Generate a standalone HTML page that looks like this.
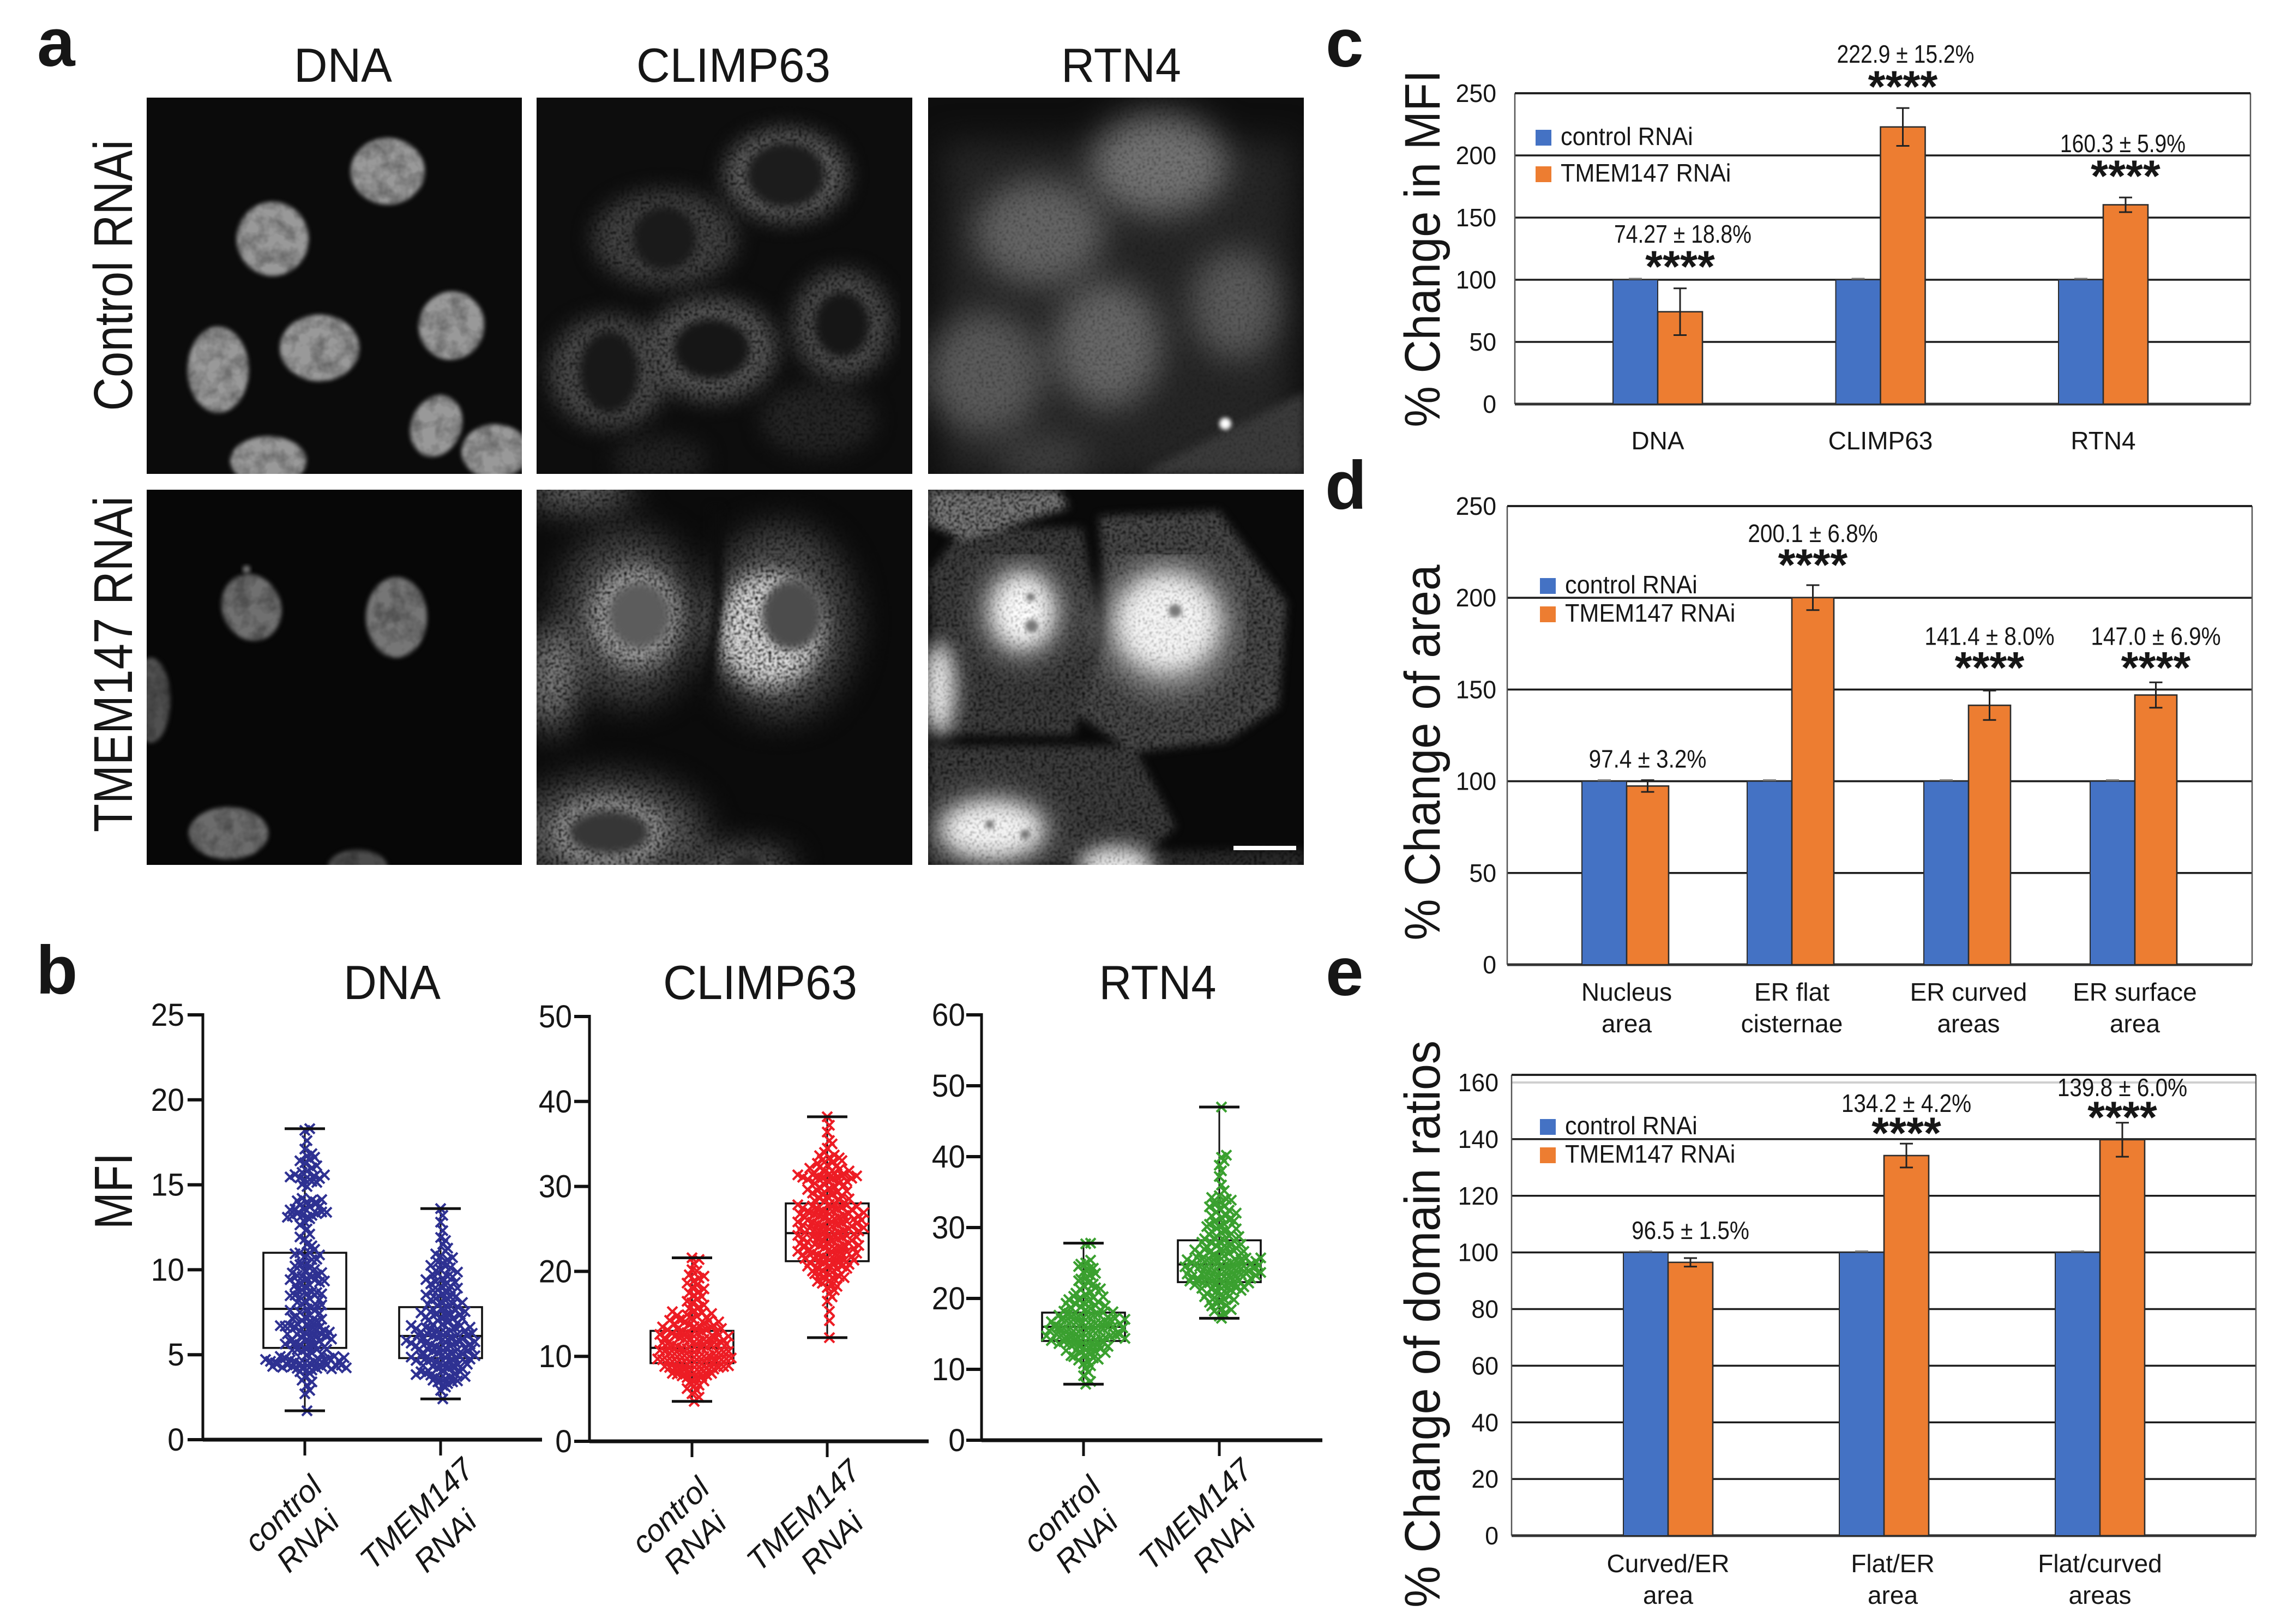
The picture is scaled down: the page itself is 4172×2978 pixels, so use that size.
<!DOCTYPE html>
<html lang="en">
<head>
<meta charset="utf-8">
<title>TMEM147 RNAi figure</title>
<style>
html,body{margin:0;padding:0;background:#fff}
svg{display:block}
text{font-family:"Liberation Sans",sans-serif;fill:#161616}
</style>
</head>
<body>
<svg id="fig" xmlns="http://www.w3.org/2000/svg" width="4172" height="2978" viewBox="0 0 4172 2978">
<defs>
<clipPath id="c11"><rect x="269" y="179" width="688" height="690"/></clipPath>
<clipPath id="c12"><rect x="984" y="179" width="689" height="690"/></clipPath>
<clipPath id="c13"><rect x="1702" y="179" width="689" height="690"/></clipPath>
<clipPath id="c21"><rect x="269" y="898" width="688" height="688"/></clipPath>
<clipPath id="c22"><rect x="984" y="898" width="689" height="688"/></clipPath>
<clipPath id="c23"><rect x="1702" y="898" width="689" height="688"/></clipPath>
<filter id="b4" x="-30%" y="-30%" width="160%" height="160%" color-interpolation-filters="sRGB"><feGaussianBlur stdDeviation="4"/></filter>
<filter id="b8" x="-20%" y="-20%" width="140%" height="140%" color-interpolation-filters="sRGB"><feGaussianBlur stdDeviation="8"/></filter>
<filter id="b18" x="-30%" y="-30%" width="160%" height="160%" color-interpolation-filters="sRGB"><feGaussianBlur stdDeviation="18"/></filter>
<filter id="b30" x="-40%" y="-40%" width="180%" height="180%" color-interpolation-filters="sRGB"><feGaussianBlur stdDeviation="30"/></filter>
<filter id="netStrong" x="-30%" y="-30%" width="160%" height="160%" color-interpolation-filters="sRGB">
<feTurbulence type="fractalNoise" baseFrequency="0.2" numOctaves="2" seed="4" result="n"/>
<feColorMatrix in="n" type="matrix" values="0 0 0 0 0  0 0 0 0 0  0 0 0 0 0  2.6 0 0 0 -0.5" result="m"/>
<feComposite in="SourceGraphic" in2="m" operator="in"/>
<feGaussianBlur stdDeviation="1.2"/>
</filter>
<filter id="netMild" x="-30%" y="-30%" width="160%" height="160%" color-interpolation-filters="sRGB">
<feTurbulence type="fractalNoise" baseFrequency="0.24" numOctaves="2" seed="9" result="n"/>
<feColorMatrix in="n" type="matrix" values="0 0 0 0 0  0 0 0 0 0  0 0 0 0 0  1.4 0 0 0 0.27" result="m"/>
<feComposite in="SourceGraphic" in2="m" operator="in"/>
<feGaussianBlur stdDeviation="1.2"/>
</filter>
<filter id="mottle" x="-20%" y="-20%" width="140%" height="140%" color-interpolation-filters="sRGB">
<feTurbulence type="fractalNoise" baseFrequency="0.035" numOctaves="3" seed="12" result="n"/>
<feColorMatrix in="n" type="matrix" values="0 0 0 0 0  0 0 0 0 0  0 0 0 0 0  0.7 0 0 0 0.55" result="m"/>
<feComposite in="SourceGraphic" in2="m" operator="in"/>
</filter>
</defs>

<rect width="4172" height="2978" fill="#fff"/>

<!-- Panel letters -->
<text x="68" y="121" font-size="125" font-weight="bold" fill="#000">a</text>
<text x="66" y="1822" font-size="125" font-weight="bold" fill="#000">b</text>
<text x="2431" y="122" font-size="125" font-weight="bold" fill="#000">c</text>
<text x="2430" y="933" font-size="125" font-weight="bold" fill="#000">d</text>
<text x="2431" y="1825" font-size="125" font-weight="bold" fill="#000">e</text>

<!-- Panel a headers -->
<text x="629" y="150" font-size="88" text-anchor="middle" textLength="180" lengthAdjust="spacingAndGlyphs">DNA</text>
<text x="1345" y="150" font-size="88" text-anchor="middle" textLength="356" lengthAdjust="spacingAndGlyphs">CLIMP63</text>
<text x="2056" y="150" font-size="88" text-anchor="middle" textLength="220" lengthAdjust="spacingAndGlyphs">RTN4</text>
<text transform="translate(242 505) rotate(-90)" font-size="100" text-anchor="middle" textLength="497" lengthAdjust="spacingAndGlyphs">Control RNAi</text>
<text transform="translate(242 1218) rotate(-90)" font-size="100" text-anchor="middle" textLength="616" lengthAdjust="spacingAndGlyphs">TMEM147 RNAi</text>

<!-- Micrograph: DNA control -->
<g clip-path="url(#c11)">
<rect x="269" y="179" width="688" height="690" fill="#0b0b0b"/>
<g filter="url(#mottle)"><g filter="url(#b4)" fill="#999">
<ellipse cx="711" cy="314" rx="68" ry="61"/>
<ellipse cx="500" cy="438" rx="66" ry="68"/>
<ellipse cx="828" cy="597" rx="60" ry="63" transform="rotate(15 828 597)"/>
<ellipse cx="586" cy="638" rx="73" ry="61"/>
<ellipse cx="400" cy="678" rx="56" ry="79"/>
<ellipse cx="800" cy="781" rx="46" ry="58" transform="rotate(22 800 781)"/>
<ellipse cx="492" cy="845" rx="70" ry="45"/>
<ellipse cx="908" cy="828" rx="62" ry="50"/>
</g></g>
</g>

<!-- Micrograph: CLIMP63 control -->
<g clip-path="url(#c12)">
<rect x="984" y="179" width="689" height="690" fill="#0d0d0d"/>
<g filter="url(#netStrong)"><g filter="url(#b18)">
<ellipse cx="1441" cy="321" rx="112" ry="84" fill="#666"/>
<ellipse cx="1219" cy="437" rx="132" ry="88" fill="#444"/>
<ellipse cx="1305" cy="640" rx="120" ry="94" fill="#5a5a5a"/>
<ellipse cx="1544" cy="595" rx="90" ry="100" fill="#505050"/>
<ellipse cx="1117" cy="682" rx="110" ry="104" fill="#4c4c4c"/>
<ellipse cx="1500" cy="770" rx="105" ry="65" fill="#262626"/>
<ellipse cx="1210" cy="845" rx="85" ry="45" fill="#242424"/>
</g></g>
<g filter="url(#b8)">
<ellipse cx="1441" cy="321" rx="72" ry="60" fill="#1c1c1c"/>
<ellipse cx="1219" cy="437" rx="58" ry="58" fill="#1a1a1a"/>
<ellipse cx="1305" cy="640" rx="70" ry="55" fill="#161616"/>
<ellipse cx="1544" cy="595" rx="50" ry="59" fill="#161616"/>
<ellipse cx="1117" cy="682" rx="54" ry="75" fill="#181818"/>
</g>
</g>

<!-- Micrograph: RTN4 control -->
<g clip-path="url(#c13)">
<rect x="1702" y="179" width="689" height="690" fill="#0e0e0e"/>
<g filter="url(#netMild)">
<g filter="url(#b30)">
<rect x="1730" y="260" width="640" height="620" fill="#262626"/>
<ellipse cx="2125" cy="300" rx="125" ry="92" fill="#747474"/>
<ellipse cx="1906" cy="426" rx="118" ry="96" fill="#666"/>
<ellipse cx="2031" cy="632" rx="98" ry="115" fill="#686868"/>
<ellipse cx="2266" cy="558" rx="82" ry="100" fill="#5c5c5c"/>
<ellipse cx="1805" cy="684" rx="108" ry="110" fill="#5c5c5c"/>
<ellipse cx="1914" cy="845" rx="85" ry="50" fill="#404040"/>
</g>
<polygon points="2090,869 2391,720 2391,869" fill="#3c3c3c" filter="url(#b8)"/>
</g>
<circle cx="2247" cy="777" r="11" fill="#fff" filter="url(#b4)"/>
</g>

<!-- Micrograph: DNA TMEM147 -->
<g clip-path="url(#c21)">
<rect x="269" y="898" width="688" height="688" fill="#070707"/>
<g filter="url(#mottle)"><g filter="url(#b4)">
<ellipse cx="461" cy="1114" rx="54" ry="62" fill="#707070" transform="rotate(-22 461 1114)"/>
<ellipse cx="727" cy="1132" rx="56" ry="74" fill="#767676"/>
<ellipse cx="277" cy="1284" rx="35" ry="78" fill="#505050"/>
<ellipse cx="419" cy="1528" rx="73" ry="48" fill="#6c6c6c"/>
<ellipse cx="656" cy="1590" rx="55" ry="32" fill="#4c4c4c"/>
</g></g>
<circle cx="452" cy="1044" r="7" fill="#777" filter="url(#b4)"/>
</g>

<!-- Micrograph: CLIMP63 TMEM147 -->
<g clip-path="url(#c22)">
<rect x="984" y="898" width="689" height="688" fill="#0b0b0b"/>
<g filter="url(#netStrong)">
<g filter="url(#b30)">
<ellipse cx="1150" cy="1130" rx="130" ry="160" fill="#4c4c4c"/>
<ellipse cx="1430" cy="1140" rx="135" ry="175" fill="#505050"/>
<ellipse cx="1117" cy="1526" rx="175" ry="100" fill="#5c5c5c"/>
<ellipse cx="1060" cy="900" rx="100" ry="30" fill="#808080"/>
<ellipse cx="1010" cy="1245" rx="40" ry="95" fill="#909090"/>
<ellipse cx="1360" cy="1590" rx="90" ry="30" fill="#808080"/>
</g>
<g filter="url(#b18)">
<ellipse cx="1165" cy="1130" rx="82" ry="92" fill="#a8a8a8"/>
<ellipse cx="1410" cy="1155" rx="96" ry="105" fill="#e0e0e0"/>
<ellipse cx="1117" cy="1526" rx="100" ry="60" fill="#a4a4a4"/>
</g>
</g>
<g filter="url(#b8)">
<ellipse cx="1172" cy="1128" rx="56" ry="60" fill="#5c5c5c"/>
<ellipse cx="1452" cy="1128" rx="55" ry="64" fill="#4c4c4c"/>
<ellipse cx="1117" cy="1526" rx="74" ry="40" fill="#363636"/>
<ellipse cx="1368" cy="1585" rx="32" ry="16" fill="#262626"/>
<path d="M1312 930 L1316 1100 L1296 1270" stroke="#0c0c0c" stroke-width="20" fill="none"/>
</g>
</g>

<!-- Micrograph: RTN4 TMEM147 -->
<g clip-path="url(#c23)">
<rect x="1702" y="898" width="689" height="688" fill="#090909"/>
<g filter="url(#netStrong)">
<g filter="url(#b8)">
<polygon points="2016,947 2234,937 2359,1105 2344,1295 2250,1358 2078,1379 1969,1305 2031,1158" fill="#4c4c4c"/>
<polygon points="1766,968 1984,968 2016,1158 1969,1347 1719,1347 1703,1053" fill="#404040"/>
<polygon points="1703,1368 2078,1368 2156,1516 2078,1586 1703,1586" fill="#404040"/>
<polygon points="1702,898 1940,898 1960,930 1770,990 1702,960" fill="#7c7c7c"/>
<rect x="2040" y="1560" width="351" height="40" fill="#2c2c2c"/>
</g>
</g>
<g filter="url(#netMild)">
<g filter="url(#b30)">
<ellipse cx="2141" cy="1147" rx="120" ry="120" fill="#a0a0a0"/>
<ellipse cx="1875" cy="1121" rx="75" ry="88" fill="#a0a0a0"/>
<ellipse cx="1820" cy="1521" rx="105" ry="60" fill="#a0a0a0"/>
</g>
<g filter="url(#b18)">
<ellipse cx="2141" cy="1142" rx="90" ry="85" fill="#f8f8f8"/>
<ellipse cx="1875" cy="1121" rx="54" ry="64" fill="#fff"/>
<ellipse cx="1722" cy="1263" rx="30" ry="85" fill="#f0f0f0"/>
<ellipse cx="1820" cy="1521" rx="90" ry="48" fill="#f8f8f8"/>
<ellipse cx="2047" cy="1588" rx="70" ry="36" fill="#f0f0f0"/>
</g>
</g>
<g filter="url(#b4)" fill="#777">
<circle cx="2155" cy="1120" r="12"/>
<circle cx="1892" cy="1148" r="12"/>
<circle cx="1890" cy="1095" r="8"/>
<circle cx="1815" cy="1512" r="8"/>
<circle cx="1880" cy="1530" r="9"/>
</g>
<rect x="2262" y="1551" width="115" height="8" fill="#fff"/>
</g>

<!-- Panel b titles -->
<text x="719" y="1832" font-size="88" text-anchor="middle" textLength="178" lengthAdjust="spacingAndGlyphs">DNA</text>
<text x="1394" y="1832" font-size="88" text-anchor="middle" textLength="356" lengthAdjust="spacingAndGlyphs">CLIMP63</text>
<text x="2123" y="1832" font-size="88" text-anchor="middle" textLength="215" lengthAdjust="spacingAndGlyphs">RTN4</text>
<text transform="translate(242 2184) rotate(-90)" font-size="98" text-anchor="middle" textLength="140" lengthAdjust="spacingAndGlyphs">MFI</text>

<!-- Bar panel y titles -->
<text transform="translate(2640 456) rotate(-90)" font-size="92" text-anchor="middle" textLength="655" lengthAdjust="spacingAndGlyphs">% Change in MFI</text>
<text transform="translate(2640 1380) rotate(-90)" font-size="92" text-anchor="middle" textLength="689" lengthAdjust="spacingAndGlyphs">% Change of area</text>
<text transform="translate(2640 2428) rotate(-90)" font-size="92" text-anchor="middle" textLength="1040" lengthAdjust="spacingAndGlyphs">% Change of domain ratios</text>

<g id="charts"></g>
</svg>

<script>
/* ---------- Panel b: per-cell mean fluorescence values ---------- */
const swarmTicksDna = [0, 5, 10, 15, 20, 25];
const swarmTicksClimp = [0, 10, 20, 30, 40, 50];
const swarmTicksRtn = [0, 10, 20, 30, 40, 50, 60];
const swarmCategories = [['control', 'RNAi'], ['TMEM147', 'RNAi']];

const dnaControl = [1.7,2.7,2.9,3.2,3.4,3.5,3.7,3.9,4.0,4.1,4.1,4.2,4.2,4.2,4.3,4.3,4.4,4.4,4.5,4.5,4.5,4.6,4.6,4.7,4.7,4.7,4.8,4.8,4.9,4.9,5.0,5.1,5.2,5.3,5.3,5.4,5.5,5.6,5.6,5.7,5.8,5.8,5.9,6.0,6.0,6.1,6.2,6.2,6.3,6.4,6.4,6.5,6.6,6.6,6.7,6.8,6.9,7.0,7.0,7.2,7.3,7.5,7.6,7.7,7.8,8.0,8.1,8.3,8.4,8.5,8.5,8.6,8.7,8.8,9.0,9.1,9.2,9.4,9.5,9.6,9.6,9.7,9.9,10.1,10.3,10.4,10.6,10.8,11.0,11.0,11.2,11.5,11.8,12.1,12.4,12.8,13.0,13.1,13.2,13.2,13.3,13.3,13.4,13.6,13.7,13.8,13.9,14.0,14.1,14.2,14.9,15.2,15.3,15.3,15.4,15.5,15.6,15.8,16.0,16.3,16.5,16.7,17.6,18.2,18.3,
4.17,4.26,4.33,4.48,4.52,4.64,4.39,4.61,4.31,4.82,4.23,4.72,5.04,5.27,5.46,5.63,5.88,6.07,6.22,6.43,6.68,6.84,7.09,7.21,7.44,7.62,7.87,8.08,8.23,8.47,8.66,8.83,9.08,9.27,9.42,9.66,9.83,10.02,10.37,10.62,10.94,5.31,5.92,6.33,6.71,7.14,7.93,8.58,9.34,9.81,10.22,10.87,11.41,11.93,12.64,13.16,13.38,13.57,13.72,13.94,14.06,13.52,13.09,14.13,15.02,15.14,15.37,15.46,15.58,15.73,16.12,16.41,16.62,16.83,17.1];
const dnaTmem = [2.4,2.9,3.1,3.2,3.3,3.4,3.4,3.5,3.6,3.6,3.7,3.7,3.8,3.9,3.9,4.0,4.0,4.1,4.2,4.2,4.3,4.3,4.4,4.5,4.5,4.6,4.6,4.7,4.8,4.8,4.9,4.9,5.0,5.0,5.1,5.1,5.2,5.3,5.3,5.4,5.4,5.5,5.5,5.6,5.7,5.7,5.8,5.8,5.9,5.9,6.0,6.0,6.1,6.2,6.2,6.3,6.3,6.4,6.4,6.5,6.6,6.6,6.7,6.8,6.9,7.0,7.1,7.2,7.3,7.4,7.4,7.5,7.6,7.7,7.8,7.9,8.0,8.1,8.2,8.3,8.4,8.6,8.7,8.8,9.0,9.1,9.3,9.5,9.6,9.8,10.0,10.2,10.4,10.6,10.8,11.1,11.5,11.9,12.3,12.8,13.2,13.6,
3.46,3.72,3.83,4.07,4.18,4.36,4.44,4.58,4.66,4.74,4.86,4.94,5.06,5.13,5.22,5.28,5.36,5.42,5.53,5.62,5.68,5.76,5.84,5.93,6.03,6.12,6.18,6.26,6.34,6.42,6.53,6.62,6.72,6.78,6.88,7.02,7.13,7.24,7.37,7.46,7.54,7.68,7.83,7.96,8.07,8.24,8.38,8.52,8.64,8.79,8.92,9.04,9.17,9.26,9.42,9.58,9.71,9.86,9.93,10.12,10.26,10.44,10.71,10.93,11.27,11.72];
const climpControl = [4.7,5.2,5.6,6.0,6.2,6.5,6.6,6.9,7.1,7.2,7.4,7.5,7.6,7.7,7.8,7.9,8.0,8.0,8.1,8.2,8.2,8.3,8.4,8.4,8.5,8.5,8.6,8.7,8.7,8.8,8.8,8.9,9.0,9.0,9.1,9.1,9.2,9.2,9.3,9.3,9.4,9.5,9.5,9.6,9.6,9.7,9.7,9.8,9.9,9.9,10.0,10.0,10.1,10.1,10.2,10.3,10.3,10.4,10.4,10.5,10.6,10.6,10.7,10.8,10.8,10.9,11.0,11.0,11.1,11.2,11.3,11.3,11.4,11.5,11.6,11.6,11.7,11.8,11.9,12.0,12.0,12.1,12.2,12.3,12.4,12.5,12.6,12.7,12.8,12.9,13.0,13.1,13.2,13.4,13.5,13.6,13.7,13.9,14.0,14.2,14.3,14.5,14.7,14.9,15.1,15.4,15.8,16.3,16.7,17.2,17.6,18.1,18.4,18.9,19.2,19.6,20.2,20.9,21.4,21.6,
11.44,11.72,11.94,12.18,12.36,12.58,12.74,12.93,13.12,13.28,13.46,13.63,13.84,14.06,14.24,14.42,14.63,14.82,15.04,15.26,15.62,16.04,16.48,17.04,17.46,17.94,18.62,19.44,20.06];
const climpTmem = [12.2,14.2,15.3,16.5,17.0,17.4,17.8,18.1,18.4,18.6,18.9,19.1,19.3,19.4,19.6,19.8,19.9,20.1,20.3,20.4,20.6,20.7,20.9,21.0,21.1,21.2,21.3,21.4,21.6,21.7,21.8,21.9,22.0,22.1,22.2,22.3,22.4,22.6,22.7,22.8,22.9,23.0,23.1,23.2,23.3,23.4,23.6,23.7,23.8,23.9,24.0,24.1,24.2,24.3,24.4,24.5,24.6,24.7,24.8,24.9,25.0,25.1,25.2,25.3,25.4,25.5,25.6,25.7,25.8,25.9,26.0,26.1,26.2,26.3,26.4,26.5,26.6,26.7,26.8,26.9,27.0,27.1,27.2,27.3,27.4,27.5,27.7,27.8,27.9,28.0,28.2,28.4,28.6,28.8,29.0,29.1,29.3,29.5,29.8,30.0,30.2,30.4,30.7,30.9,31.0,31.1,31.2,31.3,31.4,31.5,31.6,31.7,32.0,32.3,32.5,32.8,33.1,33.4,33.7,34.0,34.5,35.0,35.4,36.4,37.2,38.2,
18.24,18.83,19.26,19.72,20.04,20.36,20.62,20.83,21.04,21.32,21.52,21.74,21.96,22.14,22.36,22.54,22.72,22.94,23.06,23.28,23.46,23.64,23.84,24.06,24.24,24.38,24.57,24.76,24.94,25.14,25.32,25.46,25.64,25.82,26.04,26.16,26.34,26.52,26.74,26.92,27.06,27.28,27.44,27.62,27.84,28.06,28.32,28.54,28.94,29.22,29.44,29.64,29.92,30.14,30.36,30.62,30.84,30.96,31.08,31.24,31.36,31.46,31.58,31.82,32.14,32.46,32.72,33.04,33.36,33.62];
const rtnControl = [7.9,8.3,9.1,9.6,10.2,10.5,10.8,11.1,11.3,11.6,11.8,12.0,12.2,12.4,12.5,12.7,12.9,13.0,13.1,13.3,13.4,13.5,13.6,13.7,13.8,13.9,14.0,14.1,14.1,14.2,14.3,14.4,14.5,14.5,14.6,14.7,14.8,14.9,15.0,15.0,15.1,15.2,15.3,15.4,15.4,15.5,15.6,15.7,15.8,15.9,16.0,16.0,16.1,16.2,16.3,16.4,16.5,16.6,16.6,16.7,16.8,16.9,17.0,17.1,17.2,17.3,17.4,17.5,17.6,17.7,17.8,17.9,18.0,18.2,18.4,18.6,18.8,19.0,19.2,19.4,19.6,19.9,20.1,20.3,20.6,20.9,21.2,21.5,21.8,22.2,22.5,22.9,23.3,23.7,24.1,24.5,25.0,25.4,27.7,27.8,
11.42,11.94,12.36,12.64,13.24,13.62,14.06,14.36,14.72,15.14,15.46,15.84,16.18,16.44,16.72,17.06,17.36,17.64,18.12,18.36,18.72,18.94,19.32,19.54,19.84,20.24,20.74,21.36,22.04,22.74,23.54,24.26,24.84];
const rtnTmem = [17.2,17.5,17.8,18.2,18.6,19.0,19.3,19.6,19.9,20.1,20.3,20.6,20.8,21.0,21.2,21.3,21.5,21.7,21.8,22.0,22.1,22.2,22.3,22.4,22.5,22.6,22.7,22.8,22.9,23.0,23.1,23.2,23.3,23.4,23.5,23.6,23.7,23.8,23.9,24.0,24.1,24.2,24.3,24.4,24.5,24.6,24.7,24.8,24.9,25.0,25.1,25.2,25.3,25.4,25.5,25.6,25.7,25.8,25.9,26.0,26.2,26.4,26.5,26.7,26.9,27.0,27.2,27.4,27.6,27.8,28.0,28.2,28.5,28.8,29.0,29.3,29.6,29.9,30.2,30.5,30.8,31.1,31.4,31.8,32.2,32.6,33.0,33.3,33.6,34.0,34.5,35.2,36.0,37.2,38.0,38.8,39.4,39.9,40.2,47.0,
18.42,18.94,19.46,19.82,20.24,20.72,21.14,21.42,21.64,21.92,22.16,22.44,22.62,22.84,23.06,23.26,23.44,23.66,23.82,24.04,24.26,24.46,24.64,24.86,25.04,25.24,25.46,25.72,26.06,26.32,26.64,26.86,27.12,27.34,27.64,27.92,28.14,28.42,28.74,29.12,29.44,29.82,30.14,30.46,30.92,31.24,31.64,32.04,32.44,32.92,33.46,33.86,34.24];

/* box stats: whisker low, q1, median, q3, whisker high */
const dnaControlBox = [1.7, 5.4, 7.7, 11.0, 18.3];
const dnaTmemBox = [2.4, 4.8, 6.1, 7.8, 13.6];
const climpControlBox = [4.7, 9.2, 11.0, 13.0, 21.6];
const climpTmemBox = [12.2, 21.2, 24.5, 28.0, 38.2];
const rtnControlBox = [7.9, 14.0, 16.0, 18.0, 27.8];
const rtnTmemBox = [17.2, 22.3, 24.8, 28.2, 47.0];

/* ---------- Panels c, d, e: bar data ---------- */
const seriesNames = ['control RNAi', 'TMEM147 RNAi'];

const cCategories = [['DNA'], ['CLIMP63'], ['RTN4']];
const cTicks = [0, 50, 100, 150, 200, 250];
const cControl = [100, 100, 100];
const cTmem = [74.27, 222.9, 160.3];
const cError = [18.8, 15.2, 5.9];
const cLabels = ['74.27 ± 18.8%', '222.9 ± 15.2%', '160.3 ± 5.9%'];
const cStars = ['****', '****', '****'];

const dCategories = [['Nucleus', 'area'], ['ER flat', 'cisternae'], ['ER curved', 'areas'], ['ER surface', 'area']];
const dTicks = [0, 50, 100, 150, 200, 250];
const dControl = [100, 100, 100, 100];
const dTmem = [97.4, 200.1, 141.4, 147.0];
const dError = [3.2, 6.8, 8.0, 6.9];
const dLabels = ['97.4 ± 3.2%', '200.1 ± 6.8%', '141.4 ± 8.0%', '147.0 ± 6.9%'];
const dStars = ['', '****', '****', '****'];

const eCategories = [['Curved/ER', 'area'], ['Flat/ER', 'area'], ['Flat/curved', 'areas']];
const eTicks = [0, 20, 40, 60, 80, 100, 120, 140, 160];
const eControl = [100, 100, 100];
const eTmem = [96.5, 134.2, 139.8];
const eError = [1.5, 4.2, 6.0];
const eLabels = ['96.5 ± 1.5%', '134.2 ± 4.2%', '139.8 ± 6.0%'];
const eStars = ['', '****', '****'];

/* ---------- Drawing helpers ---------- */
const NS = 'http://www.w3.org/2000/svg';
const root = document.getElementById('charts');

function addGroup(parent, name) {
  const el = document.createElementNS(NS, 'g');
  
  
  parent.appendChild(el);
  return el;
}
function addLine(parent, name, x1, y1, x2, y2, stroke, width) {
  const el = document.createElementNS(NS, 'line');
  
  
  el.setAttribute('x1', x1);
  el.setAttribute('y1', y1);
  el.setAttribute('x2', x2);
  el.setAttribute('y2', y2);
  el.setAttribute('stroke', stroke);
  el.setAttribute('stroke-width', width);
  parent.appendChild(el);
  return el;
}
function addRect(parent, name, x, y, w, h, fill, stroke, sw) {
  const el = document.createElementNS(NS, 'rect');
  
  
  el.setAttribute('x', x);
  el.setAttribute('y', y);
  el.setAttribute('width', w);
  el.setAttribute('height', h);
  el.setAttribute('fill', fill);
  if (stroke) { el.setAttribute('stroke', stroke); el.setAttribute('stroke-width', sw); }
  parent.appendChild(el);
  return el;
}
function addText(parent, name, str, x, y, size, anchor, squeeze, extra) {
  const el = document.createElementNS(NS, 'text');
  
  
  el.setAttribute('x', x);
  el.setAttribute('y', y);
  el.setAttribute('font-size', size);
  el.setAttribute('text-anchor', anchor);
  if (extra && extra.bold) el.setAttribute('font-weight', 'bold');
  if (extra && extra.italic) el.setAttribute('font-style', 'italic');
  if (extra && extra.rotate) el.setAttribute('transform', 'rotate(' + extra.rotate + ' ' + x + ' ' + y + ')');
  el.textContent = str;
  parent.appendChild(el);
  if (squeeze && squeeze !== 1) {
    el.setAttribute('textLength', (el.getComputedTextLength() * squeeze).toFixed(1));
    el.setAttribute('lengthAdjust', 'spacingAndGlyphs');
  }
  return el;
}

/* ---------- Beeswarm box plot ---------- */
function drawSwarm(cfg) {
  const g = addGroup(root, cfg.name);
  const yOf = v => cfg.zero - (cfg.zero - cfg.top) * v / cfg.yMax;
  const xOf = i => cfg.tick0 + i * cfg.tickStep;

  cfg.ticks.forEach(t => {
    addLine(g, 'y-tick', cfg.axisX - 28, yOf(t), cfg.axisX, yOf(t), '#111', 6);
    addText(g, 'y-tick-label', String(t), cfg.labelX, yOf(t) + 20, 58, 'end', 0.95);
  });
  addLine(g, 'y-axis', cfg.axisX, cfg.top - 3, cfg.axisX, cfg.zero + 3, '#111', 5);
  addLine(g, 'x-axis', cfg.axisX, cfg.zero, cfg.right, cfg.zero, '#111', 7);

  cfg.groups.forEach((grp, i) => {
    const cx = xOf(i);
    addLine(g, 'x-tick', cx, cfg.zero, cx, cfg.zero + 29, '#111', 5);
    const lines = swarmCategories[i];
    addText(g, 'x-tick-label', lines[0], cx + (i === 0 ? -26 : -30), cfg.zero + 150, 57, 'middle', 1, {italic: true, rotate: -44});
    addText(g, 'x-tick-label', lines[1], cx + (i === 0 ? 19 : 22), cfg.zero + 200, 57, 'middle', 1, {italic: true, rotate: -44});

    const [lo, q1, med, q3, hi] = grp.box;
    addLine(g, 'whisker', cx, yOf(lo), cx, yOf(hi), '#111', 3);
    addRect(g, 'box', cx - 76, yOf(q3), 152, yOf(q1) - yOf(q3), 'none', '#111', 3.6);
    addLine(g, 'median-line', cx - 76, yOf(med), cx + 76, yOf(med), '#111', 4);

    const pts = addGroup(g, 'swarm-points');
    const binV = 14 * cfg.yMax / (cfg.zero - cfg.top);
    const counts = {};
    grp.values.forEach(v => {
      const b = Math.floor(v / binV);
      const k = counts[b] || 0;
      counts[b] = k + 1;
      const off = (k === 0 ? 0 : ((k + 1) >> 1) * (k % 2 ? 1 : -1) * 9) + (b % 2 ? 4 : 0);
      const px = cx + off, py = yOf(v), s = 9;
      const mark = document.createElementNS(NS, 'path');
      
      
      mark.setAttribute('d', 'M' + (px - s) + ' ' + (py - s) + 'L' + (px + s) + ' ' + (py + s) + 'M' + (px - s) + ' ' + (py + s) + 'L' + (px + s) + ' ' + (py - s));
      mark.setAttribute('stroke', cfg.color);
      mark.setAttribute('stroke-width', 4.2);
      mark.setAttribute('fill', 'none');
      pts.appendChild(mark);
    });

    addLine(g, 'whisker-cap-low', cx - 37, yOf(lo), cx + 37, yOf(lo), '#111', 5);
    addLine(g, 'whisker-cap-high', cx - 37, yOf(hi), cx + 37, yOf(hi), '#111', 5);
  });
}

drawSwarm({name: 'swarm-chart-dna', color: '#2e3192', top: 1861, zero: 2640, yMax: 25, ticks: swarmTicksDna,
  axisX: 372, right: 994, labelX: 338, tick0: 559, tickStep: 249,
  groups: [{values: dnaControl, box: dnaControlBox}, {values: dnaTmem, box: dnaTmemBox}]});
drawSwarm({name: 'swarm-chart-climp63', color: '#ed1c24', top: 1864, zero: 2643, yMax: 50, ticks: swarmTicksClimp,
  axisX: 1081, right: 1703, labelX: 1049, tick0: 1269, tickStep: 248,
  groups: [{values: climpControl, box: climpControlBox}, {values: climpTmem, box: climpTmemBox}]});
drawSwarm({name: 'swarm-chart-rtn4', color: '#3aa02f', top: 1861, zero: 2641, yMax: 60, ticks: swarmTicksRtn,
  axisX: 1800, right: 2425, labelX: 1770, tick0: 1987, tickStep: 249,
  groups: [{values: rtnControl, box: rtnControlBox}, {values: rtnTmem, box: rtnTmemBox}]});

/* ---------- Grouped bar chart ---------- */
function drawBars(cfg) {
  const g = addGroup(root, cfg.name);
  const yOf = v => cfg.bottom - (cfg.bottom - cfg.yTop) * v / cfg.yMax;
  const xOf = i => cfg.x0 + i * cfg.step + cfg.nudge[i];

  addRect(g, 'plot-area', cfg.left, cfg.frameTop, cfg.right - cfg.left, cfg.bottom - cfg.frameTop, '#fff');
  cfg.ticks.forEach(t => {
    if (t > 0) {
      const isTop = t === cfg.yMax;
      addLine(g, 'gridline', cfg.left, yOf(t), cfg.right, yOf(t), isTop ? cfg.topGrid : '#1c1c1c', isTop ? 4 : 3.6);
    }
    addText(g, 'y-tick-label', String(t), cfg.labelX, yOf(t) + 16, 46, 'end', 0.97);
  });
  addLine(g, 'frame-left', cfg.left, cfg.frameTop, cfg.left, cfg.bottom, '#555', 2.5);
  addLine(g, 'frame-right', cfg.right, cfg.frameTop, cfg.right, cfg.bottom, '#555', 2.5);
  addLine(g, 'frame-top', cfg.left, cfg.frameTop, cfg.right, cfg.frameTop, '#222', 4);
  addLine(g, 'x-axis', cfg.left, cfg.bottom, cfg.right, cfg.bottom, '#333', 5);

  cfg.categories.forEach((lines, i) => {
    const c = xOf(i);
    addRect(g, 'bar-control', c - cfg.barC, yOf(cfg.control[i]), cfg.barC, cfg.bottom - yOf(cfg.control[i]), '#4472c4', '#2c2c2c', 2);
    addRect(g, 'bar-tmem147', c, yOf(cfg.tmem[i]), cfg.barT, cfg.bottom - yOf(cfg.tmem[i]), '#ed7d31', '#2c2c2c', 2.6);
    const ex = c + cfg.barT / 2;
    const hi = yOf(cfg.tmem[i] + cfg.error[i]);
    const lo = yOf(cfg.tmem[i] - cfg.error[i]);
    addLine(g, 'error-bar', ex, hi, ex, lo, '#222', 3);
    addLine(g, 'error-cap-high', ex - 12, hi, ex + 12, hi, '#222', 3);
    addLine(g, 'error-cap-low', ex - 12, lo, ex + 12, lo, '#222', 3);
    addLine(g, 'control-error-cap', c - cfg.barC / 2 - 12, yOf(cfg.control[i]) - 2, c - cfg.barC / 2 + 12, yOf(cfg.control[i]) - 2, '#777', 3);

    const gap = cfg.gaps[i];
    if (cfg.stars[i]) {
      const starBottom = hi - gap;
      addText(g, 'significance-stars', cfg.stars[i], ex, starBottom + 25, 82, 'middle', 1, {bold: true});
      addText(g, 'value-label', cfg.labels[i], ex + cfg.labelShift[i], starBottom - cfg.labelLift, 46, 'middle', cfg.labelSqueeze);
    } else {
      addText(g, 'value-label', cfg.labels[i], ex + cfg.labelShift[i], hi - gap, 46, 'middle', cfg.labelSqueeze);
    }
    lines.forEach((ln, k) => {
      addText(g, 'x-tick-label', ln, c + cfg.catShift[i], cfg.catBaseline + k * 58, 46, 'middle', 1);
    });
  });

  seriesNames.forEach((s, k) => {
    const color = k === 0 ? '#4472c4' : '#ed7d31';
    const y = cfg.legendY + k * cfg.legendStep;
    addRect(g, 'legend-swatch', cfg.legendX, y - 28, 29, 29, color);
    addText(g, 'legend-label', s, cfg.legendX + 46, y, 46, 'start', 0.94);
  });
}

drawBars({name: 'bar-chart-mfi', left: 2778, right: 4127, frameTop: 171, bottom: 741, yTop: 171, yMax: 250, topGrid: '#222',
  ticks: cTicks, categories: cCategories, control: cControl, tmem: cTmem, error: cError, labels: cLabels, stars: cStars,
  x0: 3040, step: 408.5, nudge: [0, 0, 0], catShift: [0, 0, 0], barC: 82, barT: 82, labelX: 2744, catBaseline: 824,
  gaps: [37, 36, 36], labelShift: [5, 5, -5], labelLift: 47, labelSqueeze: 0.85,
  legendX: 2816, legendY: 266, legendStep: 67});
drawBars({name: 'bar-chart-area', left: 2764, right: 4130, frameTop: 928, bottom: 1769, yTop: 928, yMax: 250, topGrid: '#333',
  ticks: dTicks, categories: dCategories, control: dControl, tmem: dTmem, error: dError, labels: dLabels, stars: dStars,
  x0: 2983, step: 311, nudge: [0, -8, 5, -1], catShift: [0, 0, 0, 0], barC: 82, barT: 77, labelX: 2744, catBaseline: 1835,
  gaps: [23, 34, 39, 24], labelShift: [0, 0, 0, 0], labelLift: 45, labelSqueeze: 0.88,
  legendX: 2824, legendY: 1088, legendStep: 52});
drawBars({name: 'bar-chart-domain-ratios', left: 2772, right: 4137, frameTop: 1971, bottom: 2816, yTop: 1985, yMax: 160, topGrid: '#cfcfcf',
  ticks: eTicks, categories: eCategories, control: eControl, tmem: eTmem, error: eError, labels: eLabels, stars: eStars,
  x0: 3059, step: 396, nudge: [0, 0, 0], catShift: [0, 16, 0], barC: 82, barT: 82, labelX: 2748, catBaseline: 2883,
  gaps: [35, 16, 7], labelShift: [0, 0, 0], labelLift: 42, labelSqueeze: 0.88,
  legendX: 2824, legendY: 2080, legendStep: 52});
</script>
</body>
</html>
